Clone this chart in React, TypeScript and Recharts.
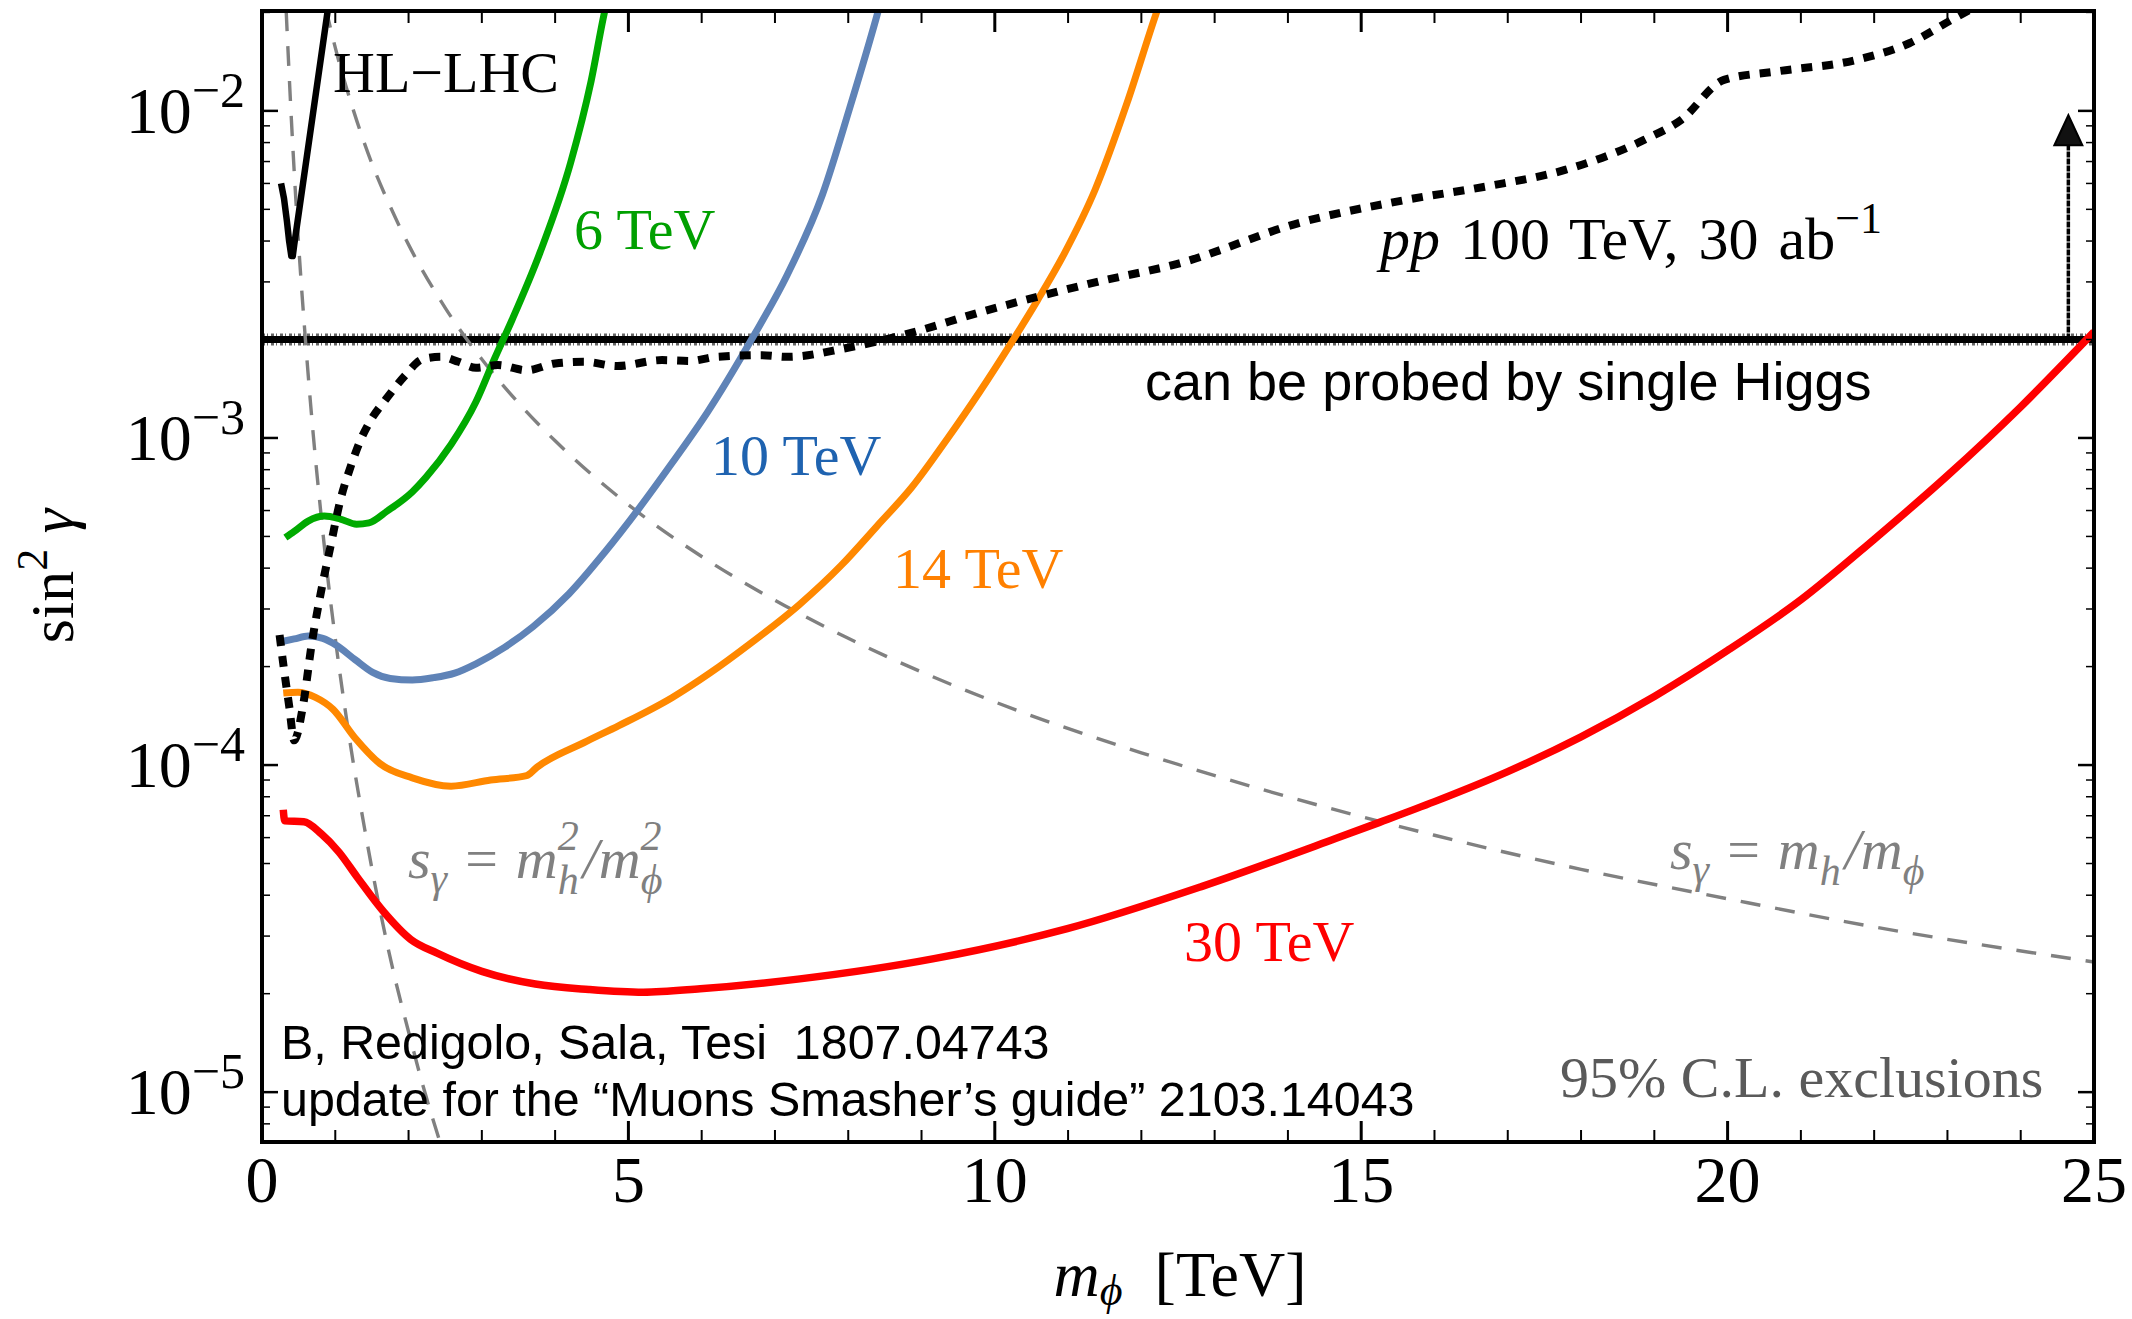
import React from 'react';
import { LineChart, Line, XAxis, YAxis, ReferenceLine, ReferenceDot } from 'recharts';

const W = 2132;
const H = 1319;

const SERIF = '"Liberation Serif", "Times New Roman", serif';
const SANS = '"Liberation Sans", Arial, Helvetica, sans-serif';

// m_phi in TeV, sin^2(gamma) reach for each collider
const hlMass = [0.26, 0.30, 0.34, 0.37, 0.40, 0.42, 0.44, 0.90];
const hlSin = [0.0060, 0.0054, 0.0046, 0.0040, 0.0036, 0.0036, 0.0039, 0.0205];

const mu6Mass = [0.32, 0.44, 0.63, 0.85, 1.07, 1.29, 1.46, 1.71, 2.05, 2.24, 2.58, 2.92, 3.17, 3.41, 3.80, 4.21, 4.49, 4.68, 4.76];
const mu6Sin = [4.96e-4, 5.18e-4, 5.57e-4, 5.77e-4, 5.65e-4, 5.45e-4, 5.5e-4, 5.98e-4, 6.84e-4, 7.59e-4, 9.55e-4, 1.29e-3, 1.74e-3, 2.29e-3, 3.72e-3, 6.92e-3, 1.23e-2, 2.03e-2, 2.4e-2];

const mu10Mass = [0.29, 0.44, 0.63, 0.83, 1.02, 1.27, 1.51, 1.75, 2.05, 2.34, 2.63, 2.92, 3.31, 3.70, 4.19, 4.68, 5.14, 5.60, 6.08, 6.68, 7.17, 7.65, 8.02, 8.39, 8.50];
const mu10Sin = [2.39e-4, 2.43e-4, 2.48e-4, 2.44e-4, 2.32e-4, 2.10e-4, 1.92e-4, 1.84e-4, 1.82e-4, 1.85e-4, 1.91e-4, 2.04e-4, 2.29e-4, 2.65e-4, 3.34e-4, 4.48e-4, 6.07e-4, 8.41e-4, 1.2e-3, 2.0e-3, 3.16e-3, 5.56e-3, 1.02e-2, 1.95e-2, 2.4e-2];

const mu14Mass = [0.29, 0.49, 0.73, 0.97, 1.27, 1.61, 2.05, 2.58, 3.12, 3.61, 3.75, 4.39, 4.87, 5.60, 6.11, 6.66, 7.33, 7.90, 8.39, 8.87, 9.36, 9.79, 10.21, 10.58, 10.95, 11.37, 11.80, 12.19, 12.30];
const mu14Sin = [1.66e-4, 1.67e-4, 1.61e-4, 1.48e-4, 1.21e-4, 1.01e-4, 9.14e-5, 8.62e-5, 9.0e-5, 9.28e-5, 9.84e-5, 1.17e-4, 1.32e-4, 1.61e-4, 1.91e-4, 2.35e-4, 3.09e-4, 4.07e-4, 5.37e-4, 7.08e-4, 1.0e-3, 1.38e-3, 1.93e-3, 2.63e-3, 3.67e-3, 5.75e-3, 1.05e-2, 1.95e-2, 2.3e-2];

const mu30Mass = [0.29, 0.31, 0.57, 0.81, 1.05, 1.30, 1.66, 2.03, 2.39, 3.00, 3.73, 4.46, 5.20, 5.98, 7.34, 9.17, 10.99, 12.82, 14.65, 15.25, 16, 17, 18, 19, 20, 21, 22, 23, 24, 25];
const mu30Sin = [7.3e-5, 6.75e-5, 6.71e-5, 6.16e-5, 5.42e-5, 4.54e-5, 3.56e-5, 2.93e-5, 2.66e-5, 2.34e-5, 2.14e-5, 2.06e-5, 2.02e-5, 2.07e-5, 2.22e-5, 2.56e-5, 3.16e-5, 4.25e-5, 5.96e-5, 6.68e-5, 7.73e-5, 9.55e-5, 1.22e-4, 1.62e-4, 2.24e-4, 3.2e-4, 4.9e-4, 7.67e-4, 1.245e-3, 2.11e-3];

const ppMass = [0.24, 0.29, 0.37, 0.44, 0.56, 0.68, 0.80, 0.93, 1.07, 1.22, 1.34, 1.46, 1.71, 1.95, 2.19, 2.44, 2.68, 2.92, 3.22, 3.61, 4.00, 4.39, 4.85, 5.46, 5.85, 6.19, 6.82, 7.17, 7.96, 8.87, 9.79, 10.58, 11.31, 12.52, 14.16, 15.6, 16.7, 17.78, 18.86, 19.37, 19.95, 20.67, 21.76, 22.48, 23.06, 23.5];
const ppSin = [2.5e-4, 2.04e-4, 1.52e-4, 1.19e-4, 1.52e-4, 2.36e-4, 3.34e-4, 4.61e-4, 6.46e-4, 8.3e-4, 9.8e-4, 1.11e-3, 1.33e-3, 1.55e-3, 1.74e-3, 1.77e-3, 1.71e-3, 1.64e-3, 1.67e-3, 1.61e-3, 1.69e-3, 1.71e-3, 1.66e-3, 1.73e-3, 1.72e-3, 1.77e-3, 1.79e-3, 1.77e-3, 1.88e-3, 2.10e-3, 2.42e-3, 2.70e-3, 2.97e-3, 3.42e-3, 4.55e-3, 5.34e-3, 5.87e-3, 6.6e-3, 8.15e-3, 9.4e-3, 1.244e-2, 1.32e-2, 1.432e-2, 1.61e-2, 1.9e-2, 2.15e-2];

// reference curves s_gamma = m_h/m_phi and s_gamma = m_h^2/m_phi^2
const linMass = [0.87, 1.0, 1.25, 1.5, 1.75, 2.0, 2.5, 3.0, 3.5, 4.0, 5.0, 6.0, 7.0, 8.0, 10, 12, 14, 16, 18, 20, 22, 25];
const linSin = [0.0206, 0.0156, 0.0100, 0.0069, 0.0051, 0.0039, 0.0025, 0.00174, 0.00128, 9.8e-4, 6.25e-4, 4.34e-4, 3.19e-4, 2.44e-4, 1.56e-4, 1.09e-4, 8.0e-5, 6.1e-5, 4.8e-5, 3.9e-5, 3.2e-5, 2.5e-5];
const quadMass = [0.33, 0.40, 0.50, 0.60, 0.70, 0.80, 0.90, 1.0, 1.2, 1.4, 1.6, 1.8, 2.0, 2.2, 2.45];
const quadSin = [0.0202, 0.0095, 0.0039, 0.0019, 0.00102, 6.0e-4, 3.7e-4, 2.44e-4, 1.18e-4, 6.4e-5, 3.7e-5, 2.3e-5, 1.53e-5, 1.04e-5, 6.8e-6];

// single Higgs sensitivity and the arrow above it
const higgsLevel = 0.002;
const arrowMass = 24.65;
const arrowTop = 0.0082;
const arrowTip = 0.0097;

const xMajor = [0, 5, 10, 15, 20, 25];
const xTicks = [0, 1, 2, 3, 4, 5, 6, 7, 8, 9, 10, 11, 12, 13, 14, 15, 16, 17, 18, 19, 20, 21, 22, 23, 24, 25];
const yMajor = [1e-5, 1e-4, 1e-3, 1e-2];
const yTicks = [
  8e-6, 9e-6,
  1e-5, 2e-5, 3e-5, 4e-5, 5e-5, 6e-5, 7e-5, 8e-5, 9e-5,
  1e-4, 2e-4, 3e-4, 4e-4, 5e-4, 6e-4, 7e-4, 8e-4, 9e-4,
  1e-3, 2e-3, 3e-3, 4e-3, 5e-3, 6e-3, 7e-3, 8e-3, 9e-3,
  1e-2, 2e-2,
];

const toPoints = (xs: number[], ys: number[]) => xs.map((x, i) => ({ x, y: ys[i] }));

const isMajorX = (v: number) => xMajor.includes(v);
const isMajorY = (v: number) => yMajor.some((m) => Math.abs(m - v) / m < 1e-6);

function BottomTick({ x, y, payload }: any) {
  const major = isMajorX(payload.value);
  return (
    <g>
      <line x1={x} x2={x} y1={y} y2={y - (major ? 21 : 12)} stroke="#000" strokeWidth={major ? 3 : 2} />
      {major && (
        <text x={x} y={y + 60} textAnchor="middle" fontFamily={SERIF} fontSize={66} fill="#000">
          {payload.value}
        </text>
      )}
    </g>
  );
}

function TopTick({ x, y, payload }: any) {
  const major = isMajorX(payload.value);
  return <line x1={x} x2={x} y1={y} y2={y + (major ? 21 : 12)} stroke="#000" strokeWidth={major ? 3 : 2} />;
}

function LeftTick({ x, y, payload }: any) {
  const major = isMajorY(payload.value);
  const exp = Math.round(Math.log10(payload.value));
  return (
    <g>
      <line x1={x} x2={x + (major ? 16 : 8)} y1={y} y2={y} stroke="#000" strokeWidth={major ? 2.5 : 1.5} />
      {major && (
        <text x={x - 17} y={y + 22} textAnchor="end" fontFamily={SERIF} fontSize={66} fill="#000">
          10
          <tspan dy={-26} fontSize={50}>{`\u2212${-exp}`}</tspan>
        </text>
      )}
    </g>
  );
}

function RightTick({ x, y, payload }: any) {
  const major = isMajorY(payload.value);
  return <line x1={x} x2={x - (major ? 16 : 8)} y1={y} y2={y} stroke="#000" strokeWidth={major ? 2.5 : 1.5} />;
}

function ArrowHead({ cx, cy }: any) {
  return <path d={`M${cx},${cy} L${cx - 14},${cy + 30} L${cx + 14},${cy + 30} Z`} fill="#111" stroke="#000" strokeWidth={2} />;
}

const frame = { stroke: '#000', strokeWidth: 4, strokeLinecap: 'square' as const };

function Annotations() {
  const gray = '#808080';
  return (
    <svg width={W} height={H} style={{ position: 'absolute', left: 0, top: 0, pointerEvents: 'none' }}>
      <g fontFamily={SERIF} fontSize={58}>
        <text x={333} y={92} fill="#000">HL{'\u2212'}LHC</text>
        <text x={574} y={249} fill="#00a000">6 TeV</text>
        <text x={711} y={475} fill="#1f63b0">10 TeV</text>
        <text x={893} y={588} fill="#ff8000">14 TeV</text>
        <text x={1184} y={961} fill="#ff0000">30 TeV</text>
        <text x={1380} y={259} fill="#000" fontSize={60} style={{ whiteSpace: 'pre', wordSpacing: 5 }}>
          <tspan fontStyle="italic">pp</tspan> 100 TeV, 30 ab
          <tspan dy={-26} fontSize={44}>{'\u22121'}</tspan>
        </text>
        <text x={1560} y={1097} fill="#5a5a5a">95% C.L. exclusions</text>

        {/* s_gamma = m_h^2 / m_phi^2 */}
        <text x={408} y={878} fill={gray} fontStyle="italic">
          s
          <tspan fontSize={42} dy={14}>{'\u03b3'}</tspan>
          <tspan dx={18} dy={-14} fontStyle="normal">=</tspan>
          <tspan dx={18}>m</tspan>
          <tspan fontSize={42} dy={16}>h</tspan>
          <tspan fontSize={42} dx={-21} dy={-44}>2</tspan>
          <tspan dx={4} dy={28}>/m</tspan>
          <tspan fontSize={42} dy={16}>{'\u03d5'}</tspan>
          <tspan fontSize={42} dx={-22} dy={-44}>2</tspan>
        </text>

        {/* s_gamma = m_h / m_phi */}
        <text x={1670} y={869} fill={gray} fontStyle="italic">
          s
          <tspan fontSize={42} dy={14}>{'\u03b3'}</tspan>
          <tspan dx={18} dy={-14} fontStyle="normal">=</tspan>
          <tspan dx={18}>m</tspan>
          <tspan fontSize={42} dy={16}>h</tspan>
          <tspan dx={4} dy={-16}>/m</tspan>
          <tspan fontSize={42} dy={16}>{'\u03d5'}</tspan>
        </text>

        {/* axis titles */}
        <text x={1180} y={1296} textAnchor="middle" fill="#000" fontSize={64} style={{ whiteSpace: 'pre' }}>
          <tspan fontStyle="italic">m</tspan>
          <tspan fontStyle="italic" fontSize={44} dy={9}>{'\u03d5'}</tspan>
          <tspan dy={-9}>{'  [TeV]'}</tspan>
        </text>
        <text x={0} y={0} textAnchor="middle" fill="#000" fontSize={62} transform="translate(73,576) rotate(-90)" style={{ whiteSpace: 'pre' }}>
          sin
          <tspan fontSize={44} dy={-26}>2</tspan>
          <tspan dy={26} fontStyle="italic">{' \u03b3'}</tspan>
        </text>
      </g>

      <g fontFamily={SANS} fill="#000">
        <text x={1145} y={400} fontSize={54}>can be probed by single Higgs</text>
        <text x={281} y={1059} fontSize={48.4} style={{ whiteSpace: 'pre' }}>B, Redigolo, Sala, Tesi  1807.04743</text>
        <text x={281} y={1116} fontSize={48.4}>update for the {'\u201c'}Muons Smasher{'\u2019'}s guide{'\u201d'} 2103.14043</text>
      </g>
    </svg>
  );
}

export default function App() {
  const domainY: [number, number] = [7.04e-6, 0.0202];
  return (
    <div style={{ position: 'absolute', left: 0, top: 0, width: W, height: H, background: '#fff' }}>
      <LineChart width={W} height={H} margin={{ top: 1, right: 8, bottom: 77, left: 162 }}>
        <XAxis
          dataKey="x"
          type="number"
          domain={[0, 25]}
          allowDataOverflow
          ticks={xTicks}
          interval={0}
          height={100}
          tickSize={0}
          tickMargin={0}
          tickLine={false}
          axisLine={frame}
          tick={BottomTick}
        />
        <XAxis
          xAxisId="top"
          orientation="top"
          dataKey="x"
          type="number"
          domain={[0, 25]}
          allowDataOverflow
          ticks={xTicks}
          interval={0}
          height={10}
          tickSize={0}
          tickMargin={0}
          tickLine={false}
          axisLine={frame}
          tick={TopTick}
        />
        <YAxis
          type="number"
          scale="log"
          domain={domainY}
          allowDataOverflow
          ticks={yTicks}
          interval={0}
          width={100}
          tickSize={0}
          tickMargin={0}
          tickLine={false}
          axisLine={frame}
          tick={LeftTick}
        />
        <YAxis
          yAxisId="right"
          orientation="right"
          type="number"
          scale="log"
          domain={domainY}
          allowDataOverflow
          ticks={yTicks}
          interval={0}
          width={30}
          tickSize={0}
          tickMargin={0}
          tickLine={false}
          axisLine={frame}
          tick={RightTick}
        />

        {/* single Higgs line, a solid core plus a speckled halo */}
        <ReferenceLine y={higgsLevel} stroke="#000" strokeWidth={7} />
        <ReferenceLine y={higgsLevel} stroke="#000" strokeWidth={12} strokeDasharray="3 2 1 3" strokeOpacity={0.6} />
        <ReferenceLine
          segment={[
            { x: arrowMass, y: higgsLevel },
            { x: arrowMass, y: arrowTop },
          ]}
          stroke="#000"
          strokeWidth={3.5}
          strokeDasharray="6 1"
        />
        <ReferenceDot x={arrowMass} y={arrowTip} r={1} shape={ArrowHead} />

        <Line data={toPoints(linMass, linSin)} dataKey="y" type="monotone" stroke="#808080" strokeWidth={3.4} strokeDasharray="20 15" dot={false} activeDot={false} isAnimationActive={false} />
        <Line data={toPoints(quadMass, quadSin)} dataKey="y" type="monotone" stroke="#808080" strokeWidth={3.4} strokeDasharray="20 15" dot={false} activeDot={false} isAnimationActive={false} />

        <Line data={toPoints(mu30Mass, mu30Sin)} dataKey="y" type="monotone" stroke="#ff0000" strokeWidth={7.5} dot={false} activeDot={false} isAnimationActive={false} />
        <Line data={toPoints(mu14Mass, mu14Sin)} dataKey="y" type="monotone" stroke="#ff8800" strokeWidth={7} dot={false} activeDot={false} isAnimationActive={false} />
        <Line data={toPoints(mu10Mass, mu10Sin)} dataKey="y" type="monotone" stroke="#5f83b7" strokeWidth={7} dot={false} activeDot={false} isAnimationActive={false} />
        <Line data={toPoints(mu6Mass, mu6Sin)} dataKey="y" type="monotone" stroke="#00aa00" strokeWidth={7} dot={false} activeDot={false} isAnimationActive={false} />
        <Line data={toPoints(hlMass, hlSin)} dataKey="y" type="linear" stroke="#000" strokeWidth={6.5} strokeLinejoin="round" dot={false} activeDot={false} isAnimationActive={false} />
        <Line data={toPoints(ppMass, ppSin)} dataKey="y" type="monotone" stroke="#000" strokeWidth={8} strokeDasharray="11 10" dot={false} activeDot={false} isAnimationActive={false} />
      </LineChart>
      <Annotations />
    </div>
  );
}
